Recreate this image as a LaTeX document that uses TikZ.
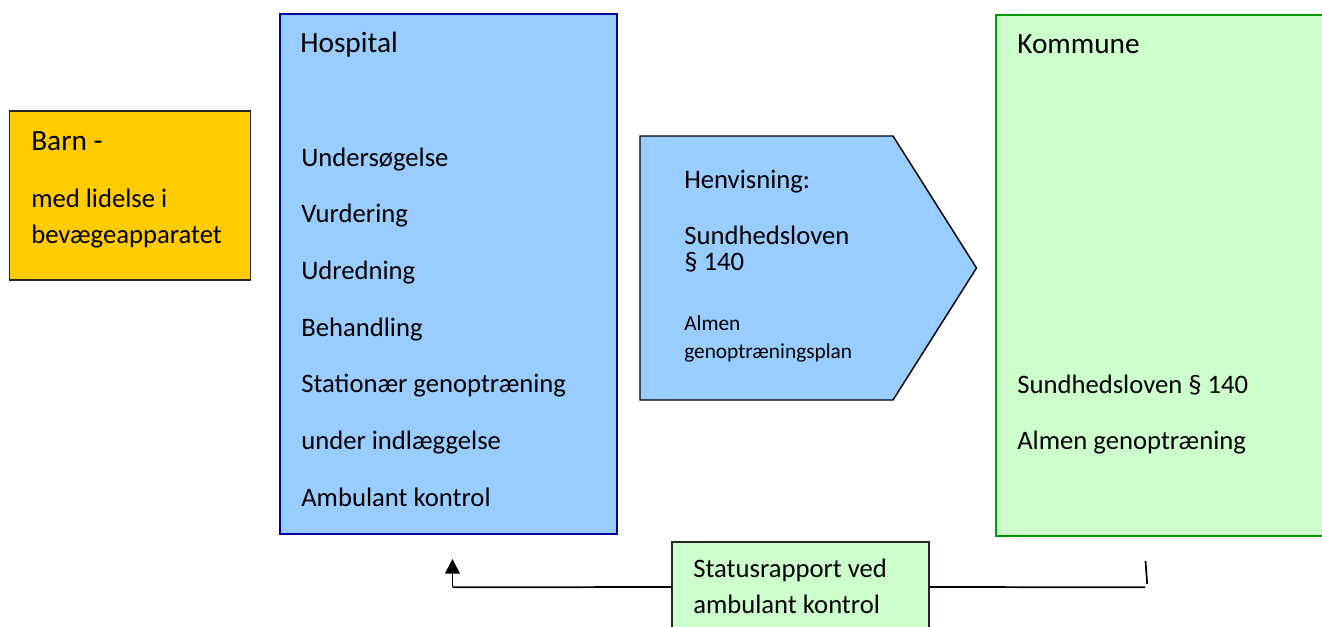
\documentclass[tikz,border=0pt]{standalone}
\usepackage{fontspec}
\setmainfont{Carlito}
\usetikzlibrary{arrows.meta}

\definecolor{barnfill}{HTML}{FFCC00}
\definecolor{hospfill}{HTML}{99CCFF}
\definecolor{hospline}{HTML}{000099}
\definecolor{kommfill}{HTML}{CCFFCC}
\definecolor{kommline}{HTML}{009900}

\begin{document}
\begin{tikzpicture}[x=0.75pt, y=-0.75pt,
    box/.style={anchor=north west, inner sep=0pt, outer sep=0pt},
    header/.style={anchor=base west, inner sep=0pt, font=\fontsize{22pt}{26pt}\selectfont},
    body/.style={anchor=base west, inner sep=0pt, font=\fontsize{20pt}{24pt}\selectfont},
    small/.style={anchor=base west, inner sep=0pt, font=\fontsize{16pt}{19pt}\selectfont},
    link/.style={line width=1.3pt}]
    \clip (0, 0) rectangle (1322, 626);

    % Draw the boxes
    \node[box, draw=black!85, fill=barnfill, line width=1.1pt, minimum width=180.75pt, minimum height=126.75pt] (barn) at (9.5, 111) {};
    \node[box, draw=hospline, fill=hospfill, line width=1.5pt, minimum width=252.75pt, minimum height=390.4pt] (hosp) at (280, 13.5) {};
    \node[box, draw=kommline, fill=kommfill, line width=1.5pt, minimum width=254.25pt, minimum height=391.1pt] (komm) at (996, 14.5) {};
    \node[box, draw=black!85, fill=kommfill, line width=1.1pt, minimum width=192.75pt, minimum height=67.5pt] (status) at (672, 542) {};

    % Draw the referral arrow
    \filldraw[fill=hospfill, draw=black, line width=1.1pt] (640, 136) -- (893, 136) -- (976.5, 268) -- (893, 400) -- (640, 400) -- cycle;

    % Texts in the boxes
    \node[header] (barn-titel) at (31, 150) {Barn -};
    \node[body] (barn-1) at (31, 207) {med lidelse i};
    \node[body] (barn-2) at (31, 243) {bevægeapparatet};

    \node[header] (hosp-titel) at (300, 52) {Hospital};
    \foreach \txt [count=\i] in {Undersøgelse, Vurdering, Udredning, Behandling,
        Stationær genoptræning, under indlæggelse, Ambulant kontrol}
        \node[body] (hosp-\i) at (301, 109.3 + 56.7*\i) {\txt};

    \node[body] (henv-1) at (684, 188) {Henvisning:};
    \node[body] (henv-2) at (684, 244) {Sundhedsloven};
    \node[body] (henv-3) at (684, 270) {§ 140};
    \node[small] (henv-4) at (684, 330.7) {Almen};
    \node[small] (henv-5) at (684, 358) {genoptræningsplan};

    \node[header] (komm-titel) at (1017, 53) {Kommune};
    \node[body] (komm-1) at (1017, 393) {Sundhedsloven § 140};
    \node[body] (komm-2) at (1017, 449.5) {Almen genoptræning};

    \node[body] (status-1) at (693, 577) {Statusrapport ved};
    \node[body] (status-2) at (693, 613) {ambulant kontrol};

    % Status line back to the hospital
    \coordinate (retur) at (452.5, 587.3);
    \coordinate (pil) at (452.5, 559);
    \coordinate (kslut) at (1145, 587.3);
    \draw[link] (status.west) -- (retur);
    \draw[link, -{Triangle[length=11pt, width=11pt]}] (retur) -- (pil);
    \draw[link] (status.east) -- (kslut);
    \draw[link] (1145.5, 561) -- (1147.2, 584);
\end{tikzpicture}
\end{document}
